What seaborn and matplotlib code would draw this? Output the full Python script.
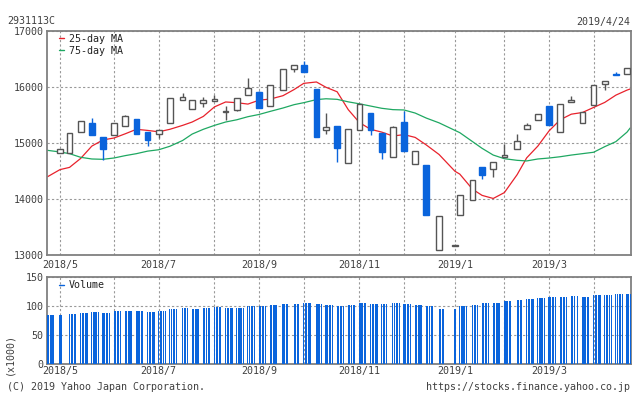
import pandas as pd
import seaborn as sns
import matplotlib
matplotlib.use("Agg")
import matplotlib.pyplot as plt
import matplotlib.dates as mdates
from matplotlib.lines import Line2D

# weekly candles (first trading day of each week)
week_dates = ["2018-05-01", "2018-05-07", "2018-05-14", "2018-05-21", "2018-05-28",
              "2018-06-04", "2018-06-11", "2018-06-18", "2018-06-25", "2018-07-02",
              "2018-07-09", "2018-07-17", "2018-07-23", "2018-07-30", "2018-08-06",
              "2018-08-13", "2018-08-20", "2018-08-27", "2018-09-03", "2018-09-10",
              "2018-09-18", "2018-09-25", "2018-10-01", "2018-10-09", "2018-10-15",
              "2018-10-22", "2018-10-29", "2018-11-05", "2018-11-12", "2018-11-19",
              "2018-11-26", "2018-12-03", "2018-12-10", "2018-12-17", "2018-12-25",
              "2019-01-04", "2019-01-07", "2019-01-15", "2019-01-21", "2019-01-28",
              "2019-02-04", "2019-02-12", "2019-02-18", "2019-02-25", "2019-03-04",
              "2019-03-11", "2019-03-18", "2019-03-25", "2019-04-01", "2019-04-08",
              "2019-04-15", "2019-04-22"]

opens = [14822, 14822, 15197, 15357, 15113, 15143, 15304, 15435, 15202, 15173,
         15357, 15768, 15607, 15714, 15750, 15560, 15589, 15857, 15917, 15661,
         15946, 16321, 16393, 15964, 15232, 15310, 14655, 15244, 15542, 15185,
         14750, 15381, 14625, 14619, 13090, 13175, 13715, 13982, 14572, 14536,
         14762, 14899, 15250, 15411, 15667, 15197, 15732, 15357, 15679, 16060,
         16238, 16238]
closes = [14893, 15179, 15393, 15143, 14893, 15357, 15482, 15173, 15054, 15244,
          15804, 15821, 15768, 15768, 15792, 15580, 15804, 15982, 15637, 16036,
          16321, 16393, 16280, 15119, 15292, 14923, 15250, 15702, 15244, 14851,
          15292, 14869, 14857, 13726, 13697, 13185, 14072, 14339, 14441, 14661,
          14792, 15048, 15327, 15518, 15333, 15697, 15774, 15554, 16048, 16107,
          16228, 16339]
highs = [14893, 15179, 15393, 15452, 15113, 15357, 15500, 15435, 15202, 15244,
         15804, 15893, 15768, 15821, 15869, 15661, 15804, 16167, 15940, 16036,
         16321, 16393, 16476, 15964, 15542, 15310, 15250, 15702, 15542, 15185,
         15316, 15583, 14857, 14619, 13697, 13185, 14072, 14339, 14572, 14661,
         14988, 15167, 15357, 15518, 15667, 15697, 15839, 15554, 16048, 16107,
         16280, 16339]
lows = [14822, 14822, 15197, 15143, 14708, 15143, 15304, 15173, 14947, 15095,
        15357, 15768, 15607, 15643, 15750, 15411, 15570, 15857, 15637, 15661,
        15946, 16280, 16280, 15119, 15173, 14673, 14655, 15244, 15155, 14726,
        14750, 14869, 14625, 13726, 13090, 13175, 13715, 13982, 14369, 14393,
        14762, 14899, 15250, 15411, 15333, 15197, 15732, 15357, 15679, 15958,
        16228, 16238]

# moving averages read at the week dates (plus both chart edges)
ma_dates = ["2018-04-23"] + week_dates + ["2019-04-24"]
ma25 = [14400,
        14530, 14570, 14730, 14950, 15060, 15095, 15170, 15250, 15230, 15205,
        15250, 15320, 15380, 15480, 15650, 15738, 15725, 15700, 15770, 15790,
        15850, 15960, 16070, 16095, 16000, 15920, 15600, 15370, 15250, 15200,
        15130, 15155, 15105, 14970, 14800, 14500, 14450, 14180, 14070, 14015,
        14120, 14440, 14740, 14950, 15220, 15420, 15520, 15550, 15640, 15730,
        15860, 15950,
        15970]
ma75 = [14875,
        14845, 14815, 14750, 14720, 14714, 14738, 14780, 14815, 14860, 14885,
        14947, 15050, 15165, 15250, 15320, 15380, 15420, 15475, 15515, 15570,
        15630, 15690, 15725, 15780, 15795, 15785, 15740, 15705, 15665, 15625,
        15601, 15595, 15540, 15450, 15365, 15230, 15190, 15030, 14910, 14790,
        14725, 14696, 14685, 14720, 14737, 14760, 14790, 14815, 14840, 14940,
        15030, 15200,
        15274]

# volume level (x1000) per calendar week, starting with the week of 2018-04-23
vol_week = [84.6, 84.6, 86, 88.5, 90, 88, 90.5, 91.4, 91.4, 90,
            92, 94.5, 96.5, 95.4, 96.5, 97.5, 96.5, 97, 100.5, 100.6,
            101, 102.9, 104, 105, 103.5, 101, 100.6, 101, 105, 104,
            103.4, 105, 104, 102.3, 99, 94, 94.3, 99, 102, 104.6,
            105, 108, 110, 112, 113.7, 115, 115.5, 117, 115, 118.5,
            119, 120.6, 120.6]
holidays = ["2018-04-30", "2018-05-03", "2018-05-04", "2018-07-16", "2018-09-17",
            "2018-09-24", "2018-10-08", "2018-11-23", "2018-12-24", "2018-12-31",
            "2019-01-01", "2019-01-02", "2019-01-03", "2019-01-14", "2019-02-11",
            "2019-03-21"]

tick_dates = ["2018-05-01", "2018-06-04", "2018-07-02", "2018-08-06", "2018-09-03",
              "2018-10-01", "2018-11-05", "2018-12-03", "2019-01-04", "2019-02-04",
              "2019-03-04", "2019-04-01"]
tick_labels = ["2018/5", "", "2018/7", "", "2018/9", "", "2018/11", "",
               "2019/1", "", "2019/3", ""]

BLUE = "#0a64dc"
GREY = "#555555"
RED = "#e8222c"
GREEN = "#1fa862"
TXT = "#404040"

sns.set_theme(style="white")
plt.rcParams["font.family"] = ["DejaVu Sans Mono"]
plt.rcParams["font.size"] = 7.2

wx = mdates.date2num(pd.to_datetime(week_dates))
mx = mdates.date2num(pd.to_datetime(ma_dates))
tx = mdates.date2num(pd.to_datetime(tick_dates))

days = pd.bdate_range("2018-04-23", "2019-04-24")
days = days[~days.isin(pd.to_datetime(holidays))]
week_idx = ((days - pd.Timedelta(days=1) * days.weekday) - pd.Timestamp("2018-04-23")).days // 7
vol = pd.DataFrame({"x": mdates.date2num(days), "v": [vol_week[k] for k in week_idx]})

x0 = mdates.date2num(pd.Timestamp("2018-04-23 04:00"))
x1 = mdates.date2num(pd.Timestamp("2019-04-24 12:00"))

fig = plt.figure(figsize=(6.34, 3.94), dpi=100)
ax = fig.add_axes([0.0749, 0.352, 0.9204, 0.5686])
axv = fig.add_axes([0.0749, 0.0754, 0.9204, 0.2223])

# moving averages
sns.lineplot(x=mx, y=ma25, ax=ax, color=RED, lw=0.9, zorder=2, legend=False)
sns.lineplot(x=mx, y=ma75, ax=ax, color=GREEN, lw=0.9, zorder=2, legend=False)

# candles
for x, o, h, l, c in zip(wx, opens, highs, lows, closes):
    up = c >= o
    col = GREY if up else BLUE
    ax.vlines(x, l, h, color=col, lw=1.0, zorder=3)
    ax.bar(x, max(abs(c - o), 1), bottom=min(o, c), width=3.6,
           facecolor="white" if up else BLUE, edgecolor=col, linewidth=1.0, zorder=4)

# volume
axv.bar(vol["x"], vol["v"], width=0.7, color=BLUE, linewidth=0, zorder=3)

for a in (ax, axv):
    a.set_xlim(x0, x1)
    a.set_xticks(tx)
    a.set_xticklabels(tick_labels)
    a.grid(True, color="#999999", linestyle=(0, (2, 2)), linewidth=0.8)
    a.set_axisbelow(True)
    a.tick_params(length=0, colors=TXT, labelsize=7.2)
    for s in a.spines.values():
        s.set_color("#808080")
        s.set_linewidth(1.3)
    a.set_xlabel("")
    a.set_ylabel("")

ax.set_ylim(13000, 17000)
ax.set_yticks([13000, 14000, 15000, 16000, 17000])
ax.tick_params(axis="y", pad=3)
ax.tick_params(axis="x", pad=3.5)
axv.set_ylim(0, 150)
axv.set_yticks([0, 50, 100, 150])
axv.tick_params(axis="y", pad=3)
axv.tick_params(axis="x", pad=1.5)

h1 = [Line2D([], [], color=RED, lw=1), Line2D([], [], color=GREEN, lw=1)]
ax.legend(h1, ["25-day MA", "75-day MA"], loc="upper left", bbox_to_anchor=(0.0197, 0.99),
          frameon=False, handlelength=0.5, handletextpad=0.5, borderaxespad=0,
          borderpad=0, labelspacing=0.2, fontsize=7.2, labelcolor="#222222")
h2 = [Line2D([], [], color=BLUE, lw=1)]
axv.legend(h2, ["Volume"], loc="upper left", bbox_to_anchor=(0.0197, 0.96),
           frameon=False, handlelength=0.5, handletextpad=0.5, borderaxespad=0,
           borderpad=0, fontsize=7.2, labelcolor="#222222")

W, H = 634, 394
fig.text(7 / W, 1 - 21.5 / H, "2931113C", ha="left", va="center", color=TXT, fontsize=7.2)
fig.text(630 / W, 1 - 21.5 / H, "2019/4/24", ha="right", va="center", color=TXT, fontsize=7.2)
fig.text(9 / W, 1 - 354 / H, "(x1000)", ha="center", va="center", rotation=90,
         color=TXT, fontsize=7.2)
fig.text(7 / W, 1 - 386.5 / H, "(C) 2019 Yahoo Japan Corporation.", ha="left", va="center",
         color=TXT, fontsize=7.2)
fig.text(630 / W, 1 - 386.5 / H, "https://stocks.finance.yahoo.co.jp", ha="right",
         va="center", color=TXT, fontsize=7.2)

fig.savefig("out.png", dpi=100)
